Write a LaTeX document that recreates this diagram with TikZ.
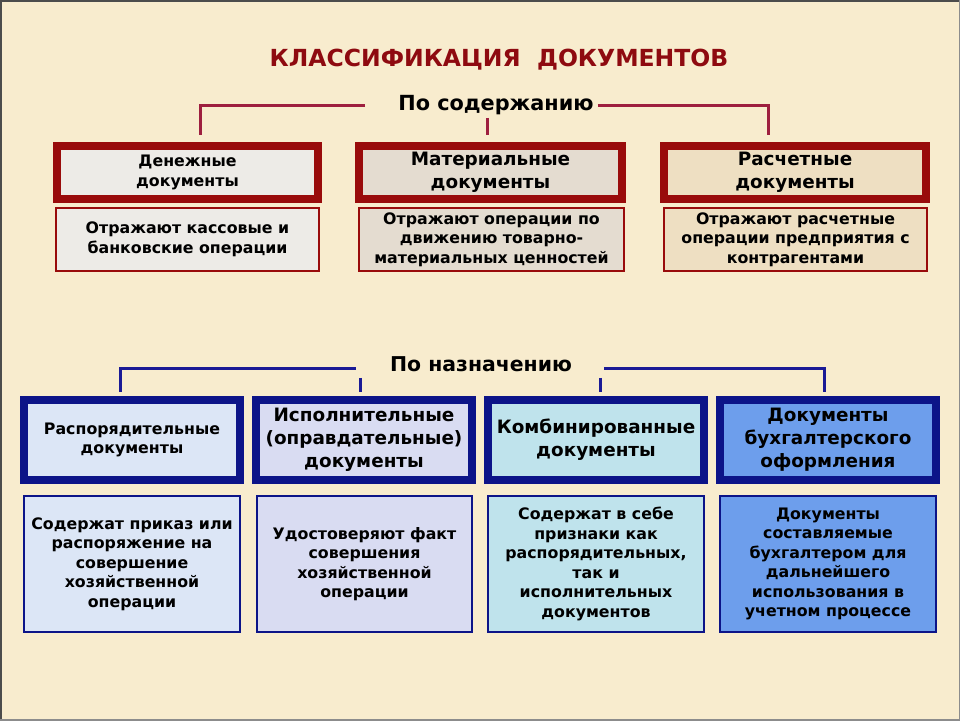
\documentclass[tikz,border=0pt]{standalone}
\usepackage{fontspec}
\setmainfont{DejaVu Sans}
\usepackage{xcolor}

\definecolor{parchment}{HTML}{F8ECCE}
\definecolor{titlered}{HTML}{8E0A10}
\definecolor{wine}{HTML}{9E1F3F}
\definecolor{darkred}{HTML}{990B0B}
\definecolor{navy}{HTML}{0C1488}
\definecolor{navyline}{HTML}{1A1A96}
\definecolor{greyfill}{HTML}{EDEBE7}
\definecolor{stonefill}{HTML}{E4DCD0}
\definecolor{sandfill}{HTML}{EEDFC2}
\definecolor{icefill}{HTML}{DCE6F6}
\definecolor{lilacfill}{HTML}{D9DCF2}
\definecolor{aquafill}{HTML}{BFE3EC}
\definecolor{skyfill}{HTML}{6D9EEC}

\begin{document}
\begin{tikzpicture} [
        x = 1pt, y = -1pt,
        every node/.style = { align = center, inner sep = 0 },
        small/.style = { font = \fontsize{15.8}{19.5}\selectfont\bfseries },
        large/.style = { font = \fontsize{18.4}{23}\selectfont\bfseries },
        redbox/.style = { draw = darkred, line width = 8pt, minimum height = 53pt },
        redinfo/.style = { draw = darkred, line width = 2pt, minimum height = 63pt, small },
        bluebox/.style = { draw = navy, line width = 8pt, minimum width = 216pt, minimum height = 80pt },
        blueinfo/.style = { draw = navy, line width = 2pt, minimum height = 136pt, small },
        redline/.style = { draw = wine, line width = 3pt },
        blueline/.style = { draw = navyline, line width = 3pt }
        ]

        % background and frame
        \fill [parchment] (0,0) rectangle (960,720);
        \useasboundingbox (0,0) rectangle (960,720);
        \draw [black!70, line width = 3pt] (0,720) -- (0,0) -- (960,0);
        \draw [black!45, line width = 2pt] (0,720) -- (960,720) -- (960,0);

        \node (title) at (499,60) [text = titlered, font = \fontsize{23.5}{28}\selectfont\bfseries]
            {КЛАССИФИКАЦИЯ\ \ ДОКУМЕНТОВ};

        % po soderzhaniyu
        \node (soder) at (496,105) [font = \fontsize{20.8}{24}\selectfont\bfseries] {По содержанию};

        \node (den) at (187.5,172.5) [redbox, fill = greyfill, minimum width = 261pt,
            font = \fontsize{15.8}{20}\selectfont\bfseries]
            {Денежные\\документы};
        \node (mat) at (490.5,172.5) [redbox, fill = stonefill, minimum width = 263pt, large]
            {Материальные\\документы};
        \node (ras) at (795,172.5) [redbox, fill = sandfill, minimum width = 262pt, large]
            {Расчетные\\документы};

        \node (deninfo) at (187.5,239.5) [redinfo, fill = greyfill, minimum width = 263pt]
            {Отражают кассовые и\\банковские операции};
        \node (matinfo) at (491.5,239.5) [redinfo, fill = stonefill, minimum width = 265pt]
            {Отражают операции по\\движению товарно-\\материальных ценностей};
        \node (rasinfo) at (795.5,239.5) [redinfo, fill = sandfill, minimum width = 263pt]
            {Отражают расчетные\\операции предприятия с\\контрагентами};

        \draw [redline, shorten > = 7pt] ([xshift = -33pt] soder.west) -| ([xshift = 12.5pt] den.north);
        \draw [redline, shorten > = 7pt] ([xshift = 4pt] soder.east) -| ([xshift = -27pt] ras.north);
        \draw [redline, shorten < = 3pt, shorten > = 7pt]
            ([xshift = -3.5pt] mat.north |- soder.south) -- ([xshift = -3.5pt] mat.north);

        % po naznacheniyu
        \node (nazn) at (481,364) [font = \fontsize{20.4}{24}\selectfont\bfseries] {По назначению};

        \node (rasp) at (132,440) [bluebox, fill = icefill, small]
            {Распорядительные\\документы};
        \node (isp) at (364,440) [bluebox, fill = lilacfill, large]
            {Исполнительные\\(оправдательные)\\документы};
        \node (komb) at (596,440) [bluebox, fill = aquafill, large]
            {Комбинированные\\документы};
        \node (buh) at (828,440) [bluebox, fill = skyfill, large]
            {Документы\\бухгалтерского\\оформления};

        \node (raspinfo) at (132,564) [blueinfo, fill = icefill, minimum width = 216pt]
            {Содержат приказ или\\распоряжение на\\совершение\\хозяйственной\\операции};
        \node (ispinfo) at (364.5,564) [blueinfo, fill = lilacfill, minimum width = 215pt]
            {Удостоверяют факт\\совершения\\хозяйственной\\операции};
        \node (kombinfo) at (596,564) [blueinfo, fill = aquafill, minimum width = 216pt]
            {Содержат в себе\\признаки как\\распорядительных,\\так и\\исполнительных\\документов};
        \node (buhinfo) at (828,564) [blueinfo, fill = skyfill, minimum width = 216pt]
            {Документы\\составляемые\\бухгалтером для\\дальнейшего\\использования в\\учетном процессе};

        \draw [blueline, shorten > = 4pt] ([xshift = -34pt, yshift = -4pt] nazn.west) -| ([xshift = -12pt] rasp.north);
        \draw [blueline, shorten > = 4pt] ([xshift = 32pt, yshift = -4pt] nazn.east) -| ([xshift = -4pt] buh.north);
        \draw [blueline, shorten < = 6pt, shorten > = 4pt]
            ([xshift = -4pt] isp.north |- nazn.south) -- ([xshift = -4pt] isp.north);
        \draw [blueline, shorten < = 6pt, shorten > = 4pt]
            ([xshift = 4pt] komb.north |- nazn.south) -- ([xshift = 4pt] komb.north);
    \end{tikzpicture}
\end{document}
